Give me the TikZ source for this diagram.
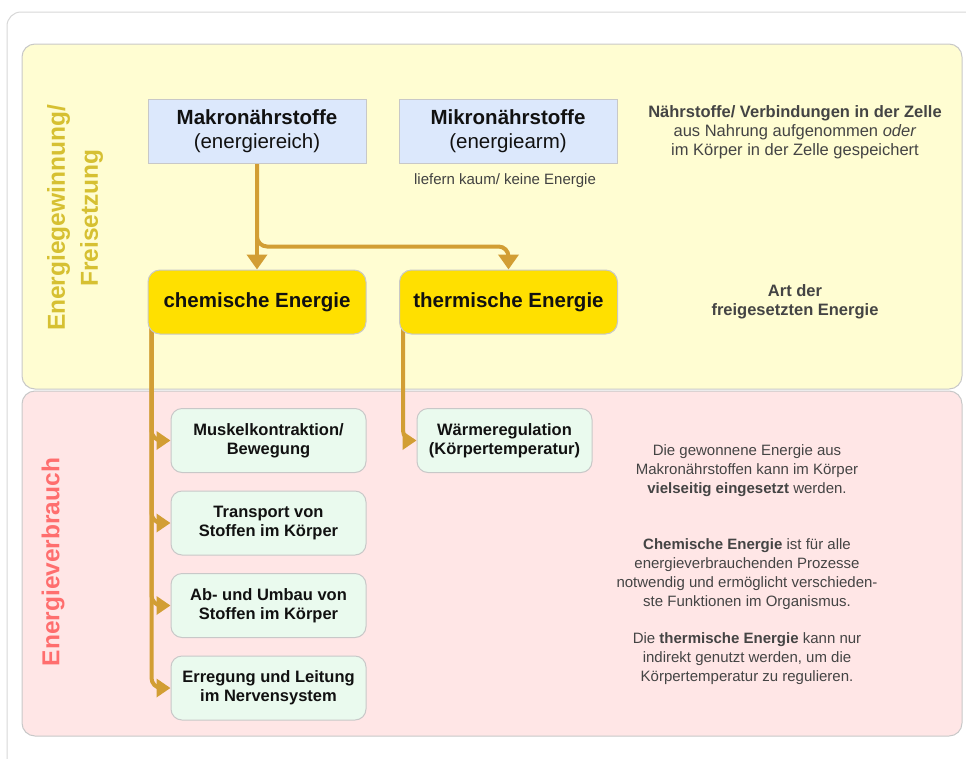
\documentclass[tikz,border=0pt]{standalone}
\usepackage{fontspec}
\setmainfont{Liberation Sans}
\usetikzlibrary{arrows.meta}
\definecolor{bordc}{RGB}{200,200,200}
\definecolor{framec}{RGB}{215,215,215}
\definecolor{yellowbg}{RGB}{255,253,210}
\definecolor{pinkbg}{RGB}{255,230,230}
\definecolor{boxblue}{RGB}{220,232,252}
\definecolor{boxgold}{RGB}{255,224,0}
\definecolor{boxgreen}{RGB}{234,250,238}
\definecolor{arrowc}{RGB}{210,158,52}
\definecolor{labely}{RGB}{214,192,50}
\definecolor{labelp}{RGB}{255,110,110}
\definecolor{textg}{RGB}{68,68,68}
\definecolor{textk}{RGB}{17,17,17}
\pgfdeclarelayer{bg}
\pgfdeclarelayer{lines}
\pgfsetlayers{bg,lines,main}
\begin{document}
\begin{tikzpicture}[x=1pt,y=-1pt,
  panel/.style={draw=bordc, line width=1pt, rounded corners=13pt},
  bluebox/.style={draw=bordc, line width=1pt, fill=boxblue, minimum width=218pt, minimum height=64pt, inner sep=0pt, align=center, text=textk, font=\fontsize{20.5}{23.5}\selectfont},
  goldbox/.style={draw=bordc, line width=1pt, fill=boxgold, rounded corners=12pt, minimum width=218pt, minimum height=64pt, inner sep=0pt, text=textk, font=\bfseries\fontsize{20.5}{24}\selectfont},
  greenbox/.style={draw=bordc, line width=1pt, fill=boxgreen, rounded corners=11pt, minimum width=195pt, minimum height=64pt, inner sep=0pt, align=center, text=textk, font=\bfseries\fontsize{16.5}{19}\selectfont},
  note/.style={align=center, text=textg, font=\fontsize{15}{19}\selectfont},
  headnote/.style={align=center, text=textg, font=\fontsize{16.5}{19}\selectfont},
  sidelabel/.style={rotate=90, align=center, font=\bfseries\fontsize{24.5}{33}\selectfont},
  arr/.style={draw=arrowc, line width=4pt, rounded corners=10pt, -{Triangle[width=20pt,length=15pt]}},
  arrs/.style={draw=arrowc, line width=4pt, rounded corners=10pt, -{Triangle[width=18pt,length=14pt]}},
]
\useasboundingbox (0,0) rectangle (966,758);

% frame and panels
\begin{pgfonlayer}{bg}
\draw[draw=framec, line width=1pt, rounded corners=14pt] (7,780) -- (7,12) -- (990,12);
\draw[panel, fill=yellowbg] (22,44) rectangle (962,389);
\draw[panel, fill=pinkbg] (22,391) rectangle (962,736);
\end{pgfonlayer}

% side labels
\node[sidelabel, text=labely] (lab1) at (75,218) {Energiegewinnung/\\Freisetzung};
\node[sidelabel, text=labelp] (lab2) at (53,562) {Energieverbrauch};

% top boxes
\node[bluebox] (makro) at (257,131) {\textbf{Makronährstoffe}\\(energiereich)};
\node[bluebox] (mikro) at (508,131) {\textbf{Mikronährstoffe}\\(energiearm)};
\node[text=textk!80, font=\fontsize{15}{17}\selectfont] (liefern) at (505,181) {liefern kaum/ keine Energie};

\node[goldbox] (chem) at (257,302) {chemische Energie};
\node[goldbox] (therm) at (508.5,302) {thermische Energie};

% consumption boxes
\node[greenbox] (g1) at (268.5,440.5) {Muskelkontraktion/\\Bewegung};
\node[greenbox] (g2) at (268.5,523) {Transport von\\Stoffen im Körper};
\node[greenbox] (g3) at (268.5,605.5) {Ab- und Umbau von\\Stoffen im Körper};
\node[greenbox] (g4) at (268.5,688) {Erregung und Leitung\\im Nervensystem};
\node[greenbox, minimum width=175pt] (waerme) at (504.5,440.5) {Wärmeregulation\\(Körpertemperatur)};

% notes
\node[headnote] (n1) at (795,132) {\textbf{Nährstoffe/ Verbindungen in der Zelle}\\aus Nahrung aufgenommen \textit{oder}\\im Körper in der Zelle gespeichert};
\node[headnote, font=\bfseries\fontsize{16.5}{19}\selectfont] (n2) at (795,301.5) {Art der\\freigesetzten Energie};
\node[note] (n3) at (747,471) {Die gewonnene Energie aus\\Makronährstoffen kann im Körper\\\textbf{vielseitig eingesetzt} werden.};
\node[note] (n4) at (747,574.5) {\textbf{Chemische Energie} ist für alle\\energieverbrauchenden Prozesse\\notwendig und ermöglicht verschieden-\\ste Funktionen im Organismus.};
\node[note] (n5) at (747,659) {Die \textbf{thermische Energie} kann nur\\indirekt genutzt werden, um die\\Körpertemperatur zu regulieren.};

% connectors
\begin{pgfonlayer}{lines}
\draw[arr] (makro.south) -- (chem.north);
\draw[arr] (makro.south) -- ++(0,83) -| (therm.north);
\foreach \g in {g1,g2,g3,g4}{
  \draw[arrs] ([xshift=4pt,yshift=10pt]chem.south west) |- (\g.west);
}
\draw[arrs] ([xshift=4pt,yshift=10pt]therm.south west) |- (waerme.west);
\end{pgfonlayer}
\end{tikzpicture}
\end{document}
